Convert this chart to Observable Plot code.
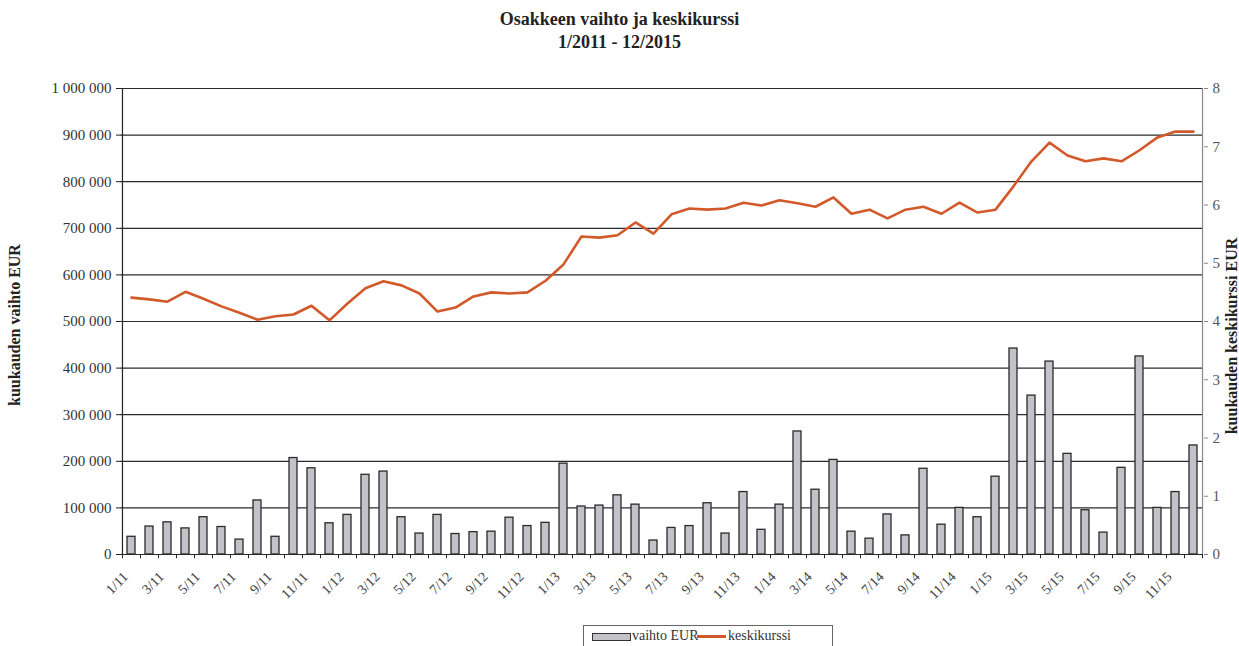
<!DOCTYPE html>
<html>
<head>
<meta charset="utf-8">
<script src="https://cdn.jsdelivr.net/npm/d3@7"></script>
<script src="https://cdn.jsdelivr.net/npm/@observablehq/plot@0.6"></script>
<style>
  body { margin:0; background:#fff; width:1239px; height:646px; overflow:hidden; position:relative; font-family:"Liberation Serif", "DejaVu Serif", serif; }
  #title { position:absolute; top:8px; left:0; width:1239px; text-align:center; font-weight:bold; font-size:18px; line-height:23px; color:#222; }
  #chart { position:absolute; top:58px; left:0; }
  #chart svg, #chart svg text { font-family:"Liberation Serif", "DejaVu Serif", serif !important; }
  #ylabL { position:absolute; left:15px; top:325px; transform:translate(-50%,-50%) rotate(-90deg); font-weight:bold; font-size:16px; white-space:nowrap; color:#222; }
  #ylabR { position:absolute; left:1232px; top:336px; transform:translate(-50%,-50%) rotate(-90deg); font-weight:bold; font-size:16px; white-space:nowrap; color:#222; }
  #legend { position:absolute; left:583px; top:625px; width:248px; height:26px; border:1px solid #666; font-size:14px; color:#333; font-family:"Liberation Serif", serif; }
  #legend .sw1 { position:absolute; left:8px; top:7px; width:37px; height:6px; background:#c2c2c8; border:1px solid #333; }
  #legend .t1 { position:absolute; left:48px; top:0px; line-height:20px; }
  #legend .sw2 { position:absolute; left:113px; top:9px; width:29px; height:3px; background:#d2592a; }
  #legend .t2 { position:absolute; left:144px; top:0px; line-height:20px; }
</style>
</head>
<body>
<div id="title">Osakkeen vaihto ja keskikurssi<br>1/2011 - 12/2015</div>
<div id="chart"></div>
<div id="ylabL">kuukauden vaihto EUR</div>
<div id="ylabR">kuukauden keskikurssi EUR</div>
<div id="legend"><div class="sw1"></div><span class="t1">vaihto EUR</span><div class="sw2"></div><span class="t2">keskikurssi</span></div>
<script>
const months = [
  "1/11","2/11","3/11","4/11","5/11","6/11","7/11","8/11","9/11","10/11","11/11","12/11",
  "1/12","2/12","3/12","4/12","5/12","6/12","7/12","8/12","9/12","10/12","11/12","12/12",
  "1/13","2/13","3/13","4/13","5/13","6/13","7/13","8/13","9/13","10/13","11/13","12/13",
  "1/14","2/14","3/14","4/14","5/14","6/14","7/14","8/14","9/14","10/14","11/14","12/14",
  "1/15","2/15","3/15","4/15","5/15","6/15","7/15","8/15","9/15","10/15","11/15","12/15"
];
const vaihto = [
  38000, 60000, 69000, 56000, 80000, 59000, 32000, 116000, 38000, 207000, 185000, 67000,
  85000, 171000, 178000, 80000, 45000, 85000, 44000, 48000, 49000, 79000, 61000, 68000,
  195000, 103000, 105000, 127000, 107000, 30000, 57000, 61000, 110000, 45000, 134000, 53000,
  107000, 264000, 139000, 203000, 49000, 34000, 86000, 41000, 184000, 64000, 100000, 80000,
  167000, 442000, 341000, 414000, 216000, 95000, 47000, 186000, 425000, 100000, 134000, 234000
];
const keskikurssi = [
  4.41, 4.38, 4.34, 4.51, 4.39, 4.26, 4.15, 4.03, 4.09, 4.12, 4.27, 4.02,
  4.31, 4.57, 4.69, 4.62, 4.48, 4.17, 4.24, 4.43, 4.50, 4.48, 4.50, 4.70,
  4.98, 5.46, 5.44, 5.48, 5.70, 5.51, 5.84, 5.94, 5.92, 5.94, 6.04, 5.99,
  6.08, 6.03, 5.97, 6.13, 5.85, 5.92, 5.77, 5.92, 5.97, 5.85, 6.04, 5.87,
  5.92, 6.32, 6.75, 7.07, 6.85, 6.75, 6.80, 6.75, 6.94, 7.16, 7.26, 7.26
];
const leftTicks = [0, 100000, 200000, 300000, 400000, 500000, 600000, 700000, 800000, 900000, 1000000];
const rightTicks = [0, 1, 2, 3, 4, 5, 6, 7, 8];
const xTickLabels = ["1/11","3/11","5/11","7/11","9/11","11/11","1/12","3/12","5/12","7/12","9/12","11/12",
  "1/13","3/13","5/13","7/13","9/13","11/13","1/14","3/14","5/14","7/14","9/14","11/14",
  "1/15","3/15","5/15","7/15","9/15","11/15"];

const W = 1239, H = 562, mL = 120, mR = 36, mT = 30, mB = 66;
const K = 1000000 / 8; // right axis 0..8 mapped onto left 0..1 000 000
const bw = (W - mL - mR) / months.length;
const data = months.map((m, i) => ({m, v: vaihto[i], k: keskikurssi[i] * K}));
const fmt = d => d3.format(",")(d).replace(/,/g, " ");

const chart = Plot.plot({
  width: W, height: H,
  marginTop: mT, marginBottom: mB, marginLeft: mL, marginRight: mR,
  style: {fontFamily: "'Liberation Serif', serif", fontSize: "15px", color: "#333", background: "white", overflow: "visible"},
  x: {type: "band", domain: months, padding: 0, axis: null},
  y: {domain: [0, 1000000], axis: null},
  marks: [
    Plot.ruleY(leftTicks, {stroke: "#2b2b2b", strokeWidth: 1.2}),
    Plot.barY(data, {x: "m", y: "v", fill: "#c2c2c8", stroke: "#2a2a2a", strokeWidth: 1.3, insetLeft: 5, insetRight: 5}),
    Plot.line(data, {x: "m", y: "k", stroke: "#d2592a", strokeWidth: 2.6}),
    Plot.ruleX([months[0]], {dx: -bw / 2, y1: 0, y2: 1000000, stroke: "#222", strokeWidth: 1.2}),
    Plot.ruleX([months[months.length - 1]], {dx: bw / 2, y1: 0, y2: 1000000, stroke: "#888", strokeWidth: 1.2}),
    Plot.ruleX(months, {dx: -bw / 2, y1: 0, y2: -9000, stroke: "#222", strokeWidth: 1}),
    Plot.ruleX([months[months.length - 1]], {dx: bw / 2, y1: 0, y2: -9000, stroke: "#222", strokeWidth: 1}),
    Plot.axisY({anchor: "left", ticks: leftTicks, tickFormat: fmt, tickSize: 4, tickPadding: 5, label: null, stroke: "#222", fill: "#333"}),
    Plot.axisY({anchor: "right", ticks: rightTicks.map(v => v * K), tickFormat: d => d / K, tickSize: 4, tickPadding: 5, label: null, stroke: "#888", fill: "#555"}),
    Plot.axisX({ticks: xTickLabels, tickSize: 0, tickPadding: 20, dx: -6, tickRotate: -45, label: null, fontSize: 14, fill: "#444"})
  ]
});
document.getElementById("chart").appendChild(chart);
</script>
</body>
</html>
